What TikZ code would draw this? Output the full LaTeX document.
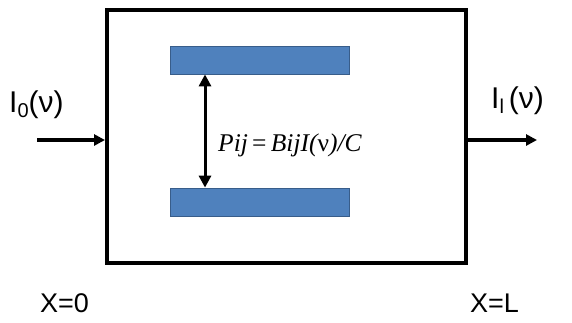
\documentclass[tikz,border=0pt]{standalone}
\usepackage{fontspec}
\setmainfont{Liberation Sans}
\newfontfamily\timesf{Liberation Serif}
\usetikzlibrary{arrows.meta}
\definecolor{barfill}{RGB}{79,129,189}
\definecolor{barline}{RGB}{56,93,138}
\tikzset{
  bar/.style={draw=barline, line width=0.8pt, fill=barfill, minimum width=179pt, minimum height=28pt, inner sep=0pt},
  flow/.style={line width=3.6pt, -{Triangle[length=11pt,width=11pt]}},
  lbl/.style={inner sep=0pt, anchor=base},
}
\begin{document}
\begin{tikzpicture}[x=1pt,y=-1pt]
\useasboundingbox (0,0) rectangle (572,322);
\node[draw, line width=4pt, minimum width=359pt, minimum height=253pt, inner sep=0pt] (box) at (286.5,136.5) {};
\node[bar] (top) at (259.5,60) {};
\node[bar] (bot) at (259.5,202) {};
\draw[line width=3pt, {Triangle[length=12pt,width=12pt]}-{Triangle[length=12pt,width=12pt]}] (top.south west -| 205,0) -- (bot.north west -| 205,0);
\node[lbl, anchor=base west] (eq) at (218,151) {\fontsize{25.5}{25.5}\selectfont\timesf\itshape Pij\,{\upshape=}\,BijI({\upshape ν})/C};
\coordinate (in) at (37,140);
\coordinate (out) at (537,140);
\draw[flow] (in) -- (box.west |- in);
\draw[flow] (box.east |- out) -- (out);
\node[lbl, anchor=base west] (i0) at (9,112) {\fontsize{30}{30}\selectfont I\raisebox{-5pt}{\fontsize{20}{20}\selectfont 0}(ν)};
\node[lbl, anchor=base west] (il) at (491,108) {\fontsize{30}{30}\selectfont I\raisebox{-5pt}{\fontsize{20}{20}\selectfont l}\,(ν)};
\node[lbl, anchor=base west] (x0) at (40,312) {\fontsize{27}{27}\selectfont X=0};
\node[lbl, anchor=base west] (xl) at (470,312) {\fontsize{27}{27}\selectfont X=L};
\end{tikzpicture}
\end{document}
